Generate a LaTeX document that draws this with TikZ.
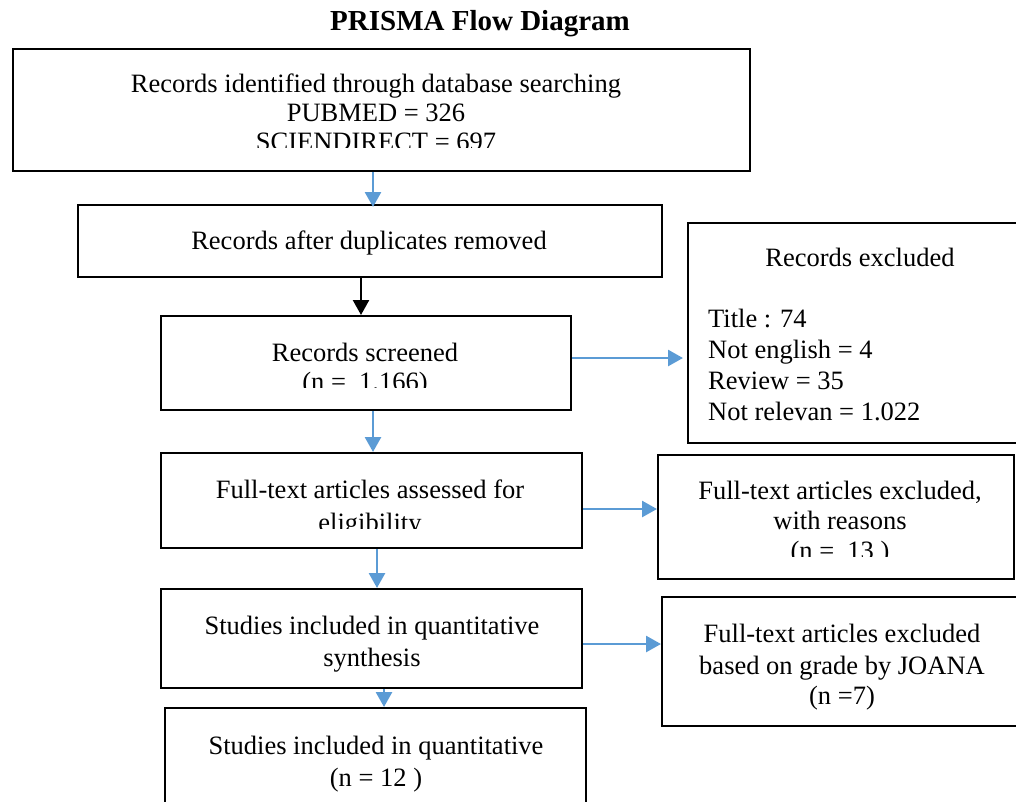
\documentclass[tikz,border=0pt]{standalone}
\usepackage{fontspec}
\setmainfont{Liberation Serif}
\usetikzlibrary{arrows.meta}
\definecolor{arrblue}{HTML}{5B9BD5}
\newcommand\bodyfont{\fontsize{26.5}{30}\selectfont}
\newcommand\titlefont{\bfseries\fontsize{29}{32}\selectfont}
\begin{document}
\begin{tikzpicture}[x=1pt,y=-1pt,
  box/.style={draw=black, line width=2pt, anchor=north west, inner sep=0pt},
  ln/.style={anchor=base, inner sep=0pt, font=\bodyfont},
  lnw/.style={anchor=base west, inner sep=0pt, font=\bodyfont},
  barr/.style={draw=arrblue, line width=2.7pt, -{Triangle[length=15pt,width=16pt]}},
  karr/.style={draw=black, line width=2.4pt, -{Triangle[length=15pt,width=16pt]}}]
\useasboundingbox (0,0) rectangle (1016,801);

\node[anchor=base, inner sep=0pt, font=\titlefont] (title) at (480,30) {PRISMA Flow Diagram};

% boxes
\node[box, minimum width=737pt, minimum height=122pt] (b1) at (12,48) {};
\node[box, minimum width=584pt, minimum height=72pt] (b2) at (77,204) {};
\node[box, minimum width=410pt, minimum height=94pt] (b3) at (160,315) {};
\node[box, minimum width=340pt, minimum height=220pt] (b4) at (687,222) {};
\node[box, minimum width=421pt, minimum height=95pt] (b5) at (160,452) {};
\node[box, minimum width=356pt, minimum height=124pt] (b6) at (657,454) {};
\node[box, minimum width=421pt, minimum height=99pt] (b7) at (160,588) {};
\node[box, minimum width=421pt, minimum height=110pt] (b8) at (164,707) {};
\node[box, minimum width=370pt, minimum height=129pt] (b9) at (661,596) {};

% texts
\begin{scope}
\clip (12,48) rectangle (749,147.5);
\node[ln] (t1a) at (376,92) {Records identified through database searching};
\node[ln] (t1b) at (376,121) {PUBMED = 326};
\node[ln] (t1c) at (376,150) {SCIENDIRECT = 697};
\end{scope}

\node[ln] (t2) at (369,249) {Records after duplicates removed};

\begin{scope}
\clip (160,315) rectangle (570,387.5);
\node[ln] (t3a) at (365,361) {Records screened};
\node[ln] (t3b) at (365,390) {(n =\ \ 1.166)};
\end{scope}

\node[ln] (t4a) at (860,266) {Records excluded};
\node[lnw] (t4b) at (708,327) {Title : 74};
\node[lnw] (t4c) at (708,358) {Not english = 4};
\node[lnw] (t4d) at (708,389) {Review = 35};
\node[lnw] (t4e) at (708,420) {Not relevan = 1.022};

\begin{scope}
\clip (160,452) rectangle (581,528);
\node[ln] (t5a) at (370,498) {Full-text articles assessed for};
\node[ln] (t5b) at (370,531) {eligibility};
\end{scope}

\begin{scope}
\clip (657,454) rectangle (1013,556);
\node[ln] (t6a) at (840,499) {Full-text articles excluded,};
\node[ln] (t6b) at (840,529) {with reasons};
\node[ln] (t6c) at (840,559) {(n =\ \ 13 )};
\end{scope}

\node[ln] (t7a) at (372,634) {Studies included in quantitative};
\node[ln] (t7b) at (372,666) {synthesis};

\node[ln] (t8a) at (376,754) {Studies included in quantitative};
\node[ln] (t8b) at (376,786) {(n = 12 )};

\node[ln] (t9a) at (842,642) {Full-text articles excluded};
\node[ln] (t9b) at (842,674) {based on grade by JOANA};
\node[ln] (t9c) at (842,704) {(n =7)};

% connector guides
\coordinate (v1) at (373,0);
\coordinate (v2) at (361,0);
\coordinate (v3) at (373,0);
\coordinate (v5) at (377,0);
\coordinate (v7) at (384,0);
\coordinate (h3) at (0,358);
\coordinate (h5) at (0,509);
\coordinate (h7) at (0,644);

\draw[barr] (b1.south -| v1) -- ([yshift=-3pt]b2.north -| v1);
\draw[karr] (b2.south -| v2) -- (b3.north -| v2);
\draw[barr] (b3.south -| v3) -- (b5.north -| v3);
\draw[barr] (b5.south -| v5) -- (b7.north -| v5);
\draw[barr] (b7.south -| v7) -- (b8.north -| v7);
\draw[barr] (b3.east |- h3) -- ([xshift=-4pt]b4.west |- h3);
\draw[barr] (b5.east |- h5) -- (b6.west |- h5);
\draw[barr] (b7.east |- h7) -- (b9.west |- h7);
\end{tikzpicture}
\end{document}
